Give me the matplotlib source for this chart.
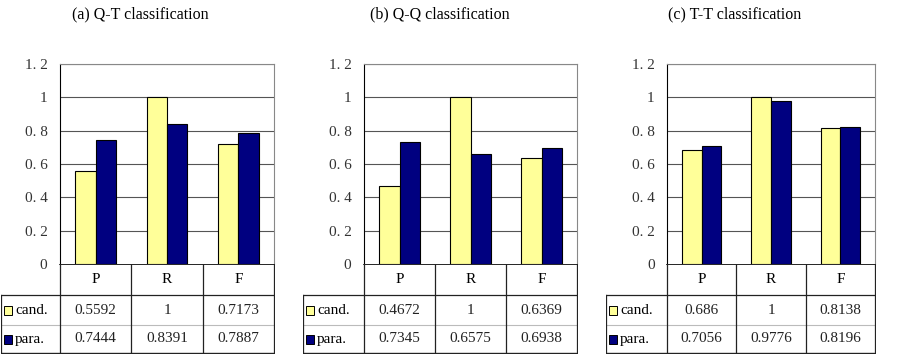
import numpy as np
import matplotlib.pyplot as plt
from matplotlib.patches import Rectangle

plt.rcParams['font.family'] = ['Liberation Serif', 'DejaVu Serif']

W, H = 899, 362

titles = ['(a) Q-T classification', '(b) Q-Q classification', '(c) T-T classification']
categories = ['P', 'R', 'F']
series_names = ['cand.', 'para.']
cand = [[0.5592, 1, 0.7173], [0.4672, 1, 0.6369], [0.686, 1, 0.8138]]
para = [[0.7444, 0.8391, 0.7887], [0.7345, 0.6575, 0.6938], [0.7056, 0.9776, 0.8196]]
cand_labels = [['0.5592', '1', '0.7173'], ['0.4672', '1', '0.6369'], ['0.686', '1', '0.8138']]
para_labels = [['0.7444', '0.8391', '0.7887'], ['0.7345', '0.6575', '0.6938'], ['0.7056', '0.9776', '0.8196']]
yticks = [0, 0.2, 0.4, 0.6, 0.8, 1.0, 1.2]
ytick_labels = ['0', '0. 2', '0. 4', '0. 6', '0. 8', '1', '1. 2']

colors = ['#FFFF99', '#000080']

# pixel layout of each panel: legend col left, plot left, plot right, title center
layout = [(1, 60, 274, 140), (303, 364, 577, 440), (606, 667, 875, 735)]
plot_top, plot_bot = 64, 264
row_header, row_cand, row_para = 295, 325, 353

fig = plt.figure(figsize=(W / 100, H / 100), dpi=100)


def fig_axes(x0, y0, x1, y1):
    return fig.add_axes([x0 / W, 1 - y1 / H, (x1 - x0) / W, (y1 - y0) / H])


for k in range(3):
    leg_l, pl, pr, tc = layout[k]
    fig.text(tc / W, 1 - 14 / H, titles[k], ha='center', va='center', fontsize=11.5)

    ax = fig_axes(pl, plot_top, pr, plot_bot)
    x = np.arange(len(categories))
    bw = 0.285
    ax.bar(x - bw / 2, cand[k], bw, color=colors[0], edgecolor='black', linewidth=0.8, zorder=3)
    ax.bar(x + bw / 2, para[k], bw, color=colors[1], edgecolor='black', linewidth=0.8, zorder=3)
    ax.set_xlim(-0.5, 2.5)
    ax.set_ylim(0, 1.2)
    ax.set_yticks(yticks)
    ax.set_yticklabels(ytick_labels, fontsize=11, color='#333333')
    ax.tick_params(axis='y', length=0, pad=9)
    ax.set_xticks([])
    for yv in yticks[1:]:
        ax.axhline(yv, color='#555555', linewidth=0.8, zorder=1)
    for s in ['top', 'right']:
        ax.spines[s].set_color('#888888')
    ax.spines['left'].set_color('black')
    ax.spines['bottom'].set_visible(False)

    # table under the plot
    tx = fig_axes(leg_l, plot_bot, pr + 1, row_para + 1)
    tx.set_xlim(leg_l, pr + 1)
    tx.set_ylim(row_para + 1, plot_bot)
    tx.axis('off')
    cols = np.linspace(pl, pr, len(categories) + 1)
    lc = '#222222'
    tx.plot([pl, pr], [plot_bot, plot_bot], color='black', lw=1.2)
    tx.plot([leg_l, pr], [row_header, row_header], color=lc, lw=0.9)
    tx.plot([leg_l, pr], [row_cand, row_cand], color='#bbbbbb', lw=0.8)
    tx.plot([leg_l, pr], [row_para, row_para], color=lc, lw=1.0)
    tx.plot([leg_l, leg_l], [row_header, row_para], color=lc, lw=0.9)
    for c in cols:
        tx.plot([c, c], [plot_bot, row_para], color=lc, lw=0.9)
    for i, cat in enumerate(categories):
        cx = (cols[i] + cols[i + 1]) / 2
        tx.text(cx, (plot_bot + row_header) / 2, cat, ha='center', va='center', fontsize=11)
        tx.text(cx, (row_header + row_cand) / 2, cand_labels[k][i], ha='center', va='center', fontsize=11, color='#222222')
        tx.text(cx, (row_cand + row_para) / 2, para_labels[k][i], ha='center', va='center', fontsize=11, color='#222222')
    for j, (name, col) in enumerate(zip(series_names, colors)):
        y0, y1 = [(row_header, row_cand), (row_cand, row_para)][j]
        ym = (y0 + y1) / 2
        tx.add_patch(Rectangle((leg_l + 2.5, ym - 4.5), 8.5, 9, facecolor=col, edgecolor='black', lw=0.7))
        tx.text(leg_l + 14, ym, name, ha='left', va='center', fontsize=11)

fig.savefig('out.png', dpi=100)
